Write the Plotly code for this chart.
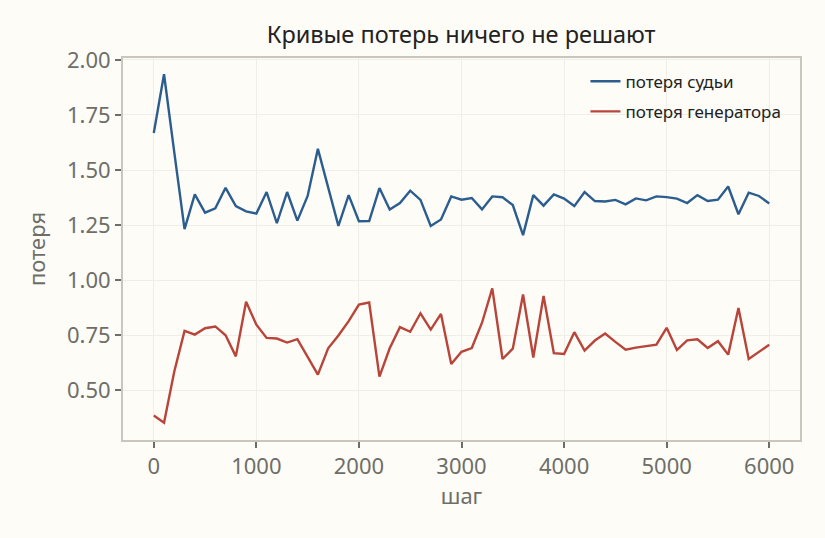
import plotly.graph_objects as go

steps = list(range(0, 6001, 100))

judge_loss = [1.668, 1.935, 1.58, 1.231, 1.389, 1.306, 1.326, 1.419, 1.336, 1.312,
              1.302, 1.400, 1.258, 1.400, 1.270, 1.382, 1.596, 1.419, 1.246, 1.386,
              1.267, 1.268, 1.418, 1.320, 1.350, 1.406, 1.364, 1.246, 1.275, 1.380,
              1.365, 1.373, 1.321, 1.380, 1.376, 1.341, 1.204, 1.386, 1.338, 1.389,
              1.370, 1.336, 1.400, 1.359, 1.357, 1.364, 1.344, 1.371, 1.362, 1.380,
              1.377, 1.370, 1.350, 1.386, 1.359, 1.365, 1.425, 1.299, 1.397, 1.382,
              1.348]

gen_loss = [0.384, 0.352, 0.584, 0.769, 0.752, 0.781, 0.789, 0.749, 0.653, 0.901,
            0.797, 0.737, 0.734, 0.716, 0.731, 0.650, 0.570, 0.690, 0.748, 0.813,
            0.888, 0.898, 0.561, 0.690, 0.786, 0.765, 0.849, 0.775, 0.846, 0.618,
            0.674, 0.691, 0.806, 0.962, 0.641, 0.688, 0.934, 0.648, 0.928, 0.668,
            0.664, 0.763, 0.679, 0.725, 0.757, 0.719, 0.683, 0.693, 0.699, 0.706,
            0.783, 0.682, 0.726, 0.731, 0.691, 0.722, 0.661, 0.873, 0.641, 0.674,
            0.706]

names = ["потеря судьи", "потеря генератора"]
colors = ["#2c5d8f", "#b9443a"]

fig = go.Figure()
fig.add_trace(go.Scatter(x=steps, y=judge_loss, mode="lines", name=names[0],
                         legendgroup="a", line=dict(color=colors[0], width=2.4)))
fig.add_trace(go.Scatter(x=steps, y=gen_loss, mode="lines", name=names[1],
                         legendgroup="b", line=dict(color=colors[1], width=2.4)))

axis_common = dict(showline=True, mirror=True, linecolor="#c9c7bd", linewidth=2,
                   showgrid=True, gridcolor="#efeee8", gridwidth=1,
                   ticks="outside", ticklen=6, tickwidth=1.5, tickcolor="#6e6e68",
                   tickfont=dict(size=22, color="#6e6e68"), zeroline=False)

fig.update_xaxes(range=[-300, 6300], tickvals=[0, 1000, 2000, 3000, 4000, 5000, 6000],
                 title=dict(text="шаг", font=dict(size=22, color="#6e6e68"), standoff=8),
                 **axis_common)
fig.update_yaxes(range=[0.273, 2.009], tickvals=[0.5, 0.75, 1.0, 1.25, 1.5, 1.75, 2.0],
                 tickformat=".2f",
                 title=dict(text="потеря", font=dict(size=22, color="#6e6e68"), standoff=15),
                 **axis_common)

fig.update_layout(
    width=825, height=538,
    margin=dict(l=123, r=25, t=58, b=98),
    paper_bgcolor="#fdfcf7", plot_bgcolor="#fdfcf7",
    font=dict(family="Noto Sans, Open Sans, sans-serif", color="#222222"),
    title=dict(text="Кривые потерь ничего не решают", x=0.5589, xanchor="center",
               y=0.935, yanchor="middle", font=dict(size=23.5, color="#222222")),
    legend=dict(x=0.98, xanchor="right", y=0.985, yanchor="top",
                bgcolor="rgba(0,0,0,0)", font=dict(size=17, color="#222222"),
                tracegroupgap=5),
    showlegend=True,
)

# drop the page margin so the figure sits at the window corner
fig.write_html("out.html", config={"displayModeBar": False},
               post_script="document.body.style.margin='0';document.body.style.background='#fdfcf7';")
